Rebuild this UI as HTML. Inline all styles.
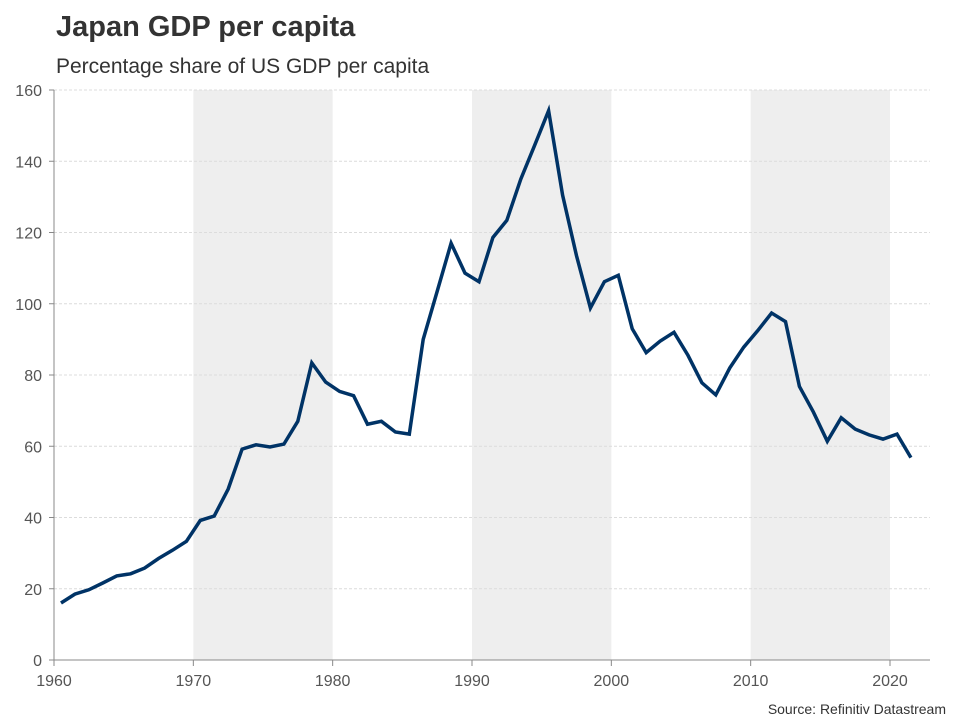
<!DOCTYPE html>
<html><head><meta charset="utf-8"><style>
body{margin:0;background:#fff;font-family:"Liberation Sans",Arial,sans-serif;}
</style></head><body>
<svg width="960" height="720" xmlns="http://www.w3.org/2000/svg">
<text x="56" y="36" font-size="29" font-weight="bold" fill="#333">Japan GDP per capita</text>
<text x="56" y="73" font-size="21" fill="#333">Percentage share of US GDP per capita</text>
<g id="bands"></g><g id="grid"></g><g id="axes"></g><g id="series"></g>
<text x="946" y="714" font-size="14" fill="#333" text-anchor="end">Source: Refinitiv Datastream</text>
</svg>
<script>
const years=[1960,1961,1962,1963,1964,1965,1966,1967,1968,1969,1970,1971,1972,1973,1974,1975,1976,1977,1978,1979,1980,1981,1982,1983,1984,1985,1986,1987,1988,1989,1990,1991,1992,1993,1994,1995,1996,1997,1998,1999,2000,2001,2002,2003,2004,2005,2006,2007,2008,2009,2010,2011,2012,2013,2014,2015,2016,2017,2018,2019,2020,2021];
const values=[16,18.5,19.7,21.6,23.6,24.2,25.8,28.5,30.8,33.3,39.2,40.4,48,59.2,60.4,59.8,60.6,67,83.4,78,75.4,74.2,66.2,67,64,63.4,90,103.5,117,108.6,106.2,118.6,123.4,135,144.5,154.2,130.5,113.5,98.8,106.2,108,93,86.3,89.5,92,85.5,77.8,74.4,82,87.8,92.4,97.4,95,76.8,69.6,61.4,68,64.8,63.2,62,63.4,56.8];
const yTicks=[0,20,40,60,80,100,120,140,160];
const xTicks=[1960,1970,1980,1990,2000,2010,2020];
const bandStarts=[1970,1990,2010];
const bandEnds=[1980,2000,2020];
const NS="http://www.w3.org/2000/svg";
const X=y=>54+(y-1960)*(836/60);
const Y=v=>660-v*(570/160);
function mk(t,a,p){const e=document.createElementNS(NS,t);for(const k in a)e.setAttribute(k,a[k]);p.appendChild(e);return e;}
const bands=document.getElementById('bands'),grid=document.getElementById('grid'),axes=document.getElementById('axes'),series=document.getElementById('series');
bandStarts.forEach((s,i)=>{const r=mk('rect',{x:X(s),y:90,width:X(bandEnds[i])-X(s),height:570,fill:'#eeeeee'},bands);

});
yTicks.forEach(t=>{
 if(t>0){const l=mk('line',{x1:54,x2:930,y1:Y(t),y2:Y(t),stroke:'#dcdcdc','stroke-dasharray':'3,2','stroke-width':1},grid);
 
 }
 mk('line',{x1:49,x2:54,y1:Y(t),y2:Y(t),stroke:'#888'},axes);
 const tx=mk('text',{x:42,y:Y(t)+6,'font-size':16,fill:'#555','text-anchor':'end'},axes);tx.textContent=t;
 
 
});
mk('line',{x1:54,x2:54,y1:90,y2:660,stroke:'#888'},axes);
mk('line',{x1:54,x2:930,y1:660,y2:660,stroke:'#888'},axes);
xTicks.forEach(t=>{
 mk('line',{x1:X(t),x2:X(t),y1:660,y2:666,stroke:'#888'},axes);
 const tx=mk('text',{x:X(t),y:686,'font-size':16,fill:'#555','text-anchor':'middle'},axes);tx.textContent=t;
 
 
});
const pts=years.map((y,i)=>X(y+0.5).toFixed(1)+','+Y(values[i]).toFixed(1)).join(' ');
const pl=mk('polyline',{points:pts,fill:'none',stroke:'#003366','stroke-width':3.5,'stroke-linejoin':'miter'},series);


</script>
</body></html>
